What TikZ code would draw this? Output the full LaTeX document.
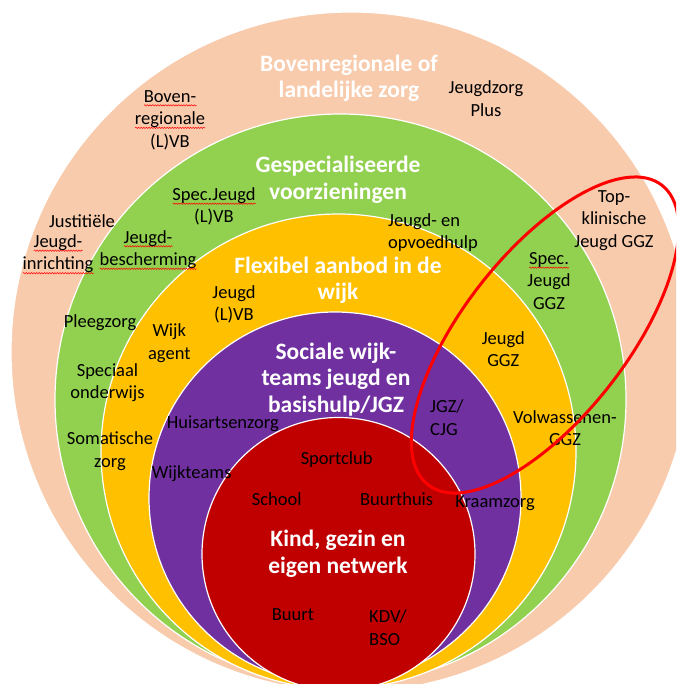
\documentclass[tikz,border=0pt]{standalone}
\usepackage{fontspec}
\setmainfont{Carlito}
\usetikzlibrary{decorations.pathmorphing}
\definecolor{peach}{HTML}{F8CBAD}
\definecolor{lgreen}{HTML}{92D050}
\definecolor{gold}{HTML}{FFC000}
\definecolor{violet}{HTML}{7030A0}
\definecolor{darkred}{HTML}{C00000}
\newsavebox\sqbox
\newlength\sqlen
\newcommand\sq[1]{\sbox\sqbox{#1}\setlength\sqlen{\wd\sqbox}\rlap{\raisebox{-3.2pt}{\tikz[baseline=0pt]\draw[red, line width=0.5pt, decorate, decoration={snake, amplitude=0.7pt, segment length=2.6pt}] (0pt,0pt) -- (\sqlen,0pt);}}\usebox\sqbox}
\begin{document}
\begin{tikzpicture}[x=1pt,y=-1pt,
  lbl/.style={font=\fontsize{18.5}{22.5}\selectfont, text=black, align=center, inner sep=0pt},
  lbll/.style={lbl, align=left, anchor=west},
  ttl/.style={font=\fontsize{23.5}{26.2}\selectfont\bfseries, text=white, align=center, inner sep=0pt},
  ring/.style={draw=white, line width=1.2pt}]
\useasboundingbox (0,0) rectangle (676,684);
\fill[white] (0,0) rectangle (676,684);
\clip (0,0) rectangle (676,684);
% rings
\path[ring, fill=peach]   (351,352)   circle[radius=340pt];
\path[ring, fill=lgreen]  (340.5,399.5) circle[radius=285.5pt];
\path[ring, fill=gold]    (338.5,451.5) circle[radius=237.5pt];
\path[ring, fill=violet]  (335,498)   circle[radius=186pt];
\path[ring, fill=darkred] (338.5,554) circle[radius=136.5pt];
% titles
\node[ttl] (t1) at (349,78.5) {Bovenregionale of\\landelijke zorg};
\node[ttl] (t2) at (338,179.8) {Gespecialiseerde\\voorzieningen};
\node[ttl] (t3) at (338,280) {Flexibel aanbod in de\\wijk};
\node[ttl] (t4) at (336,379.6) {Sociale wijk-\\teams jeugd en\\basishulp/JGZ};
\node[ttl] (t5) at (338,553.7) {Kind, gezin en\\eigen netwerk};
% outer ring labels
\node[lbl] (bovreg) at (170,120) {\sq{Boven-}\\\sq{regionale}\\(L)VB};
\node[lbl] (jzplus) at (486,98.8) {Jeugdzorg\\Plus};
\node[lbl] (justit) at (82,221.6) {Justitiële};
\node[lbl] (jinr) at (58,254.4) {\sq{Jeugd-}\\\sq{inrichting}};
\node[lbl] (topkl) at (614,220.5) {Top-\\klinische\\Jeugd GGZ};
% green ring labels
\node[lbl] (specjlvb) at (214,206.6) {\sq{Spec.Jeugd}\\(L)VB};
\node[lbl] (jbesch) at (148,250) {\sq{Jeugd-}\\\sq{bescherming}};
\node[lbll] (jopv) at (388,232.7) {Jeugd- en\\opvoedhulp};
\node[lbl] (specggz) at (549,281) {\sq{Spec.}\\Jeugd\\GGZ};
\node[lbl] (pleeg) at (100,322.8) {Pleegzorg};
\node[lbl] (specond) at (107.5,382.8) {Speciaal\\onderwijs};
\node[lbl] (somat) at (110,451) {Somatische\\zorg};
% yellow ring labels
\node[lbl] (jlvb) at (234,304.3) {Jeugd\\(L)VB};
\node[lbl] (wijkag) at (169.3,343.3) {Wijk\\agent};
\node[lbl] (jggz) at (503.3,349) {Jeugd\\GGZ};
\node[lbl] (volw) at (565,428.3) {Volwassenen-\\GGZ};
% purple ring labels
\node[lbll] (jgz) at (430,417.5) {JGZ/\\CJG};
\node[lbl] (huisarts) at (222.8,423.3) {Huisartsenzorg};
\node[lbl] (wijkt) at (191.7,473.3) {Wijkteams};
\node[lbl] (kraam) at (495,503.3) {Kraamzorg};
% red circle labels
\node[lbl] (sport) at (336.7,459.3) {Sportclub};
\node[lbl] (school) at (276.7,499) {School};
\node[lbl] (buurth) at (396.7,499) {Buurthuis};
\node[lbl] (buurt) at (293,615) {Buurt};
\node[lbll] (kdv) at (369,627.8) {KDV/\\BSO};
% red ellipse
\draw[red, line width=3pt, rotate around={52:(545,335)}] (545,335) ellipse[x radius=190pt, y radius=82pt];
\end{tikzpicture}
\end{document}
